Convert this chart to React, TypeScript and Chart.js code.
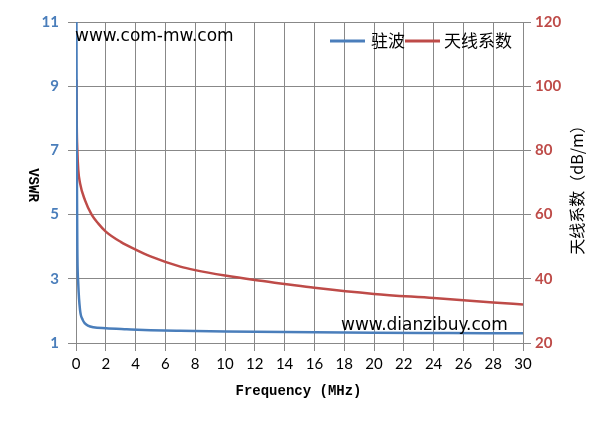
import React, { useEffect, useRef } from "react";
import { Chart, registerables } from "chart.js";

Chart.register(...registerables);

const vswrFreq = [0.03, 0.05, 0.09, 0.15, 0.27, 0.45, 0.6, 0.8, 1.16, 2, 3.4, 5, 7, 10, 14, 20, 25, 30];
const vswrValues = [11, 7, 3.9, 2.86, 2.03, 1.72, 1.61, 1.54, 1.49, 1.46, 1.43, 1.4, 1.38, 1.36, 1.34, 1.32, 1.31, 1.3];

const afFreq = [0.03, 0.05, 0.09, 0.15, 0.27, 0.6, 1.05, 1.5, 2, 3, 4, 5, 7, 8, 10, 12, 14, 16, 20, 24, 28, 30];
const afValues = [102, 88, 80, 74, 69.8, 64.5, 60, 57.2, 54.7, 51.5, 49.1, 47, 43.8, 42.7, 41, 39.6, 38.4, 37.2, 35.3, 34, 32.6, 32];

const xTicks = [0, 2, 4, 6, 8, 10, 12, 14, 16, 18, 20, 22, 24, 26, 28, 30];
const leftTicks = [1, 3, 5, 7, 9, 11];
const rightTicks = [20, 40, 60, 80, 100, 120];

const seriesNames = ["驻波", "天线系数"];
const xTitle = "Frequency (MHz)";
const leftTitle = "VSWR";
const rightTitle = "天线系数（dB/m）";
const watermarks = ["www.com-mw.com", "www.dianzibuy.com"];

const BLUE = "#4a7ebb";
const RED = "#be4b48";
const GRID = "#888888";

const overlay = {
  id: "overlay",
  afterDraw(chart: any) {
    const ctx = chart.ctx;
    const a = chart.chartArea;
    ctx.save();
    ctx.fillStyle = "#000";
    ctx.font = "17px 'DejaVu Sans'";
    ctx.textBaseline = "middle";
    ctx.textAlign = "left";
    ctx.fillText(watermarks[0], a.left - 1, 37);
    ctx.fillText(watermarks[1], 341, 326);
    ctx.lineWidth = 3;
    ctx.strokeStyle = BLUE;
    ctx.beginPath();
    ctx.moveTo(330, 41);
    ctx.lineTo(365, 41);
    ctx.stroke();
    ctx.strokeStyle = RED;
    ctx.beginPath();
    ctx.moveTo(405, 41);
    ctx.lineTo(440, 41);
    ctx.stroke();
    ctx.font = "17px 'Noto Sans CJK SC'";
    ctx.fillStyle = "#000";
    ctx.fillText(seriesNames[0], 371, 41);
    ctx.fillText(seriesNames[1], 444, 41);
    ctx.font = "bold 14px 'Liberation Mono'";
    ctx.textAlign = "center";
    ctx.fillText(xTitle, (a.left + a.right) / 2 - 1, 391);
    ctx.save();
    ctx.translate(33, 185);
    ctx.rotate(Math.PI / 2);
    ctx.fillText(leftTitle, 0, 0);
    ctx.restore();
    ctx.save();
    ctx.translate(577, 186);
    ctx.rotate(-Math.PI / 2);
    ctx.font = "16px 'Noto Sans CJK SC'";
    ctx.fillText(rightTitle, 0, 0);
    ctx.restore();
    ctx.restore();
  },
};

export default function App() {
  const ref = useRef<HTMLCanvasElement>(null);
  useEffect(() => {
    document.body.style.margin = "0";
    const chart = new Chart(ref.current!, {
      type: "line",
      data: {
        datasets: [
          {
            label: seriesNames[0],
            data: vswrFreq.map((x, i) => ({ x, y: vswrValues[i] })),
            borderColor: BLUE,
            borderWidth: 2.5,
            pointRadius: 0,
            cubicInterpolationMode: "monotone",
            yAxisID: "y",
          },
          {
            label: seriesNames[1],
            data: afFreq.map((x, i) => ({ x, y: afValues[i] })),
            borderColor: RED,
            borderWidth: 2.5,
            pointRadius: 0,
            cubicInterpolationMode: "monotone",
            yAxisID: "y1",
          },
        ],
      },
      options: {
        responsive: false,
        animation: false,
        layout: { padding: { top: 22, left: 0, right: 0, bottom: 0 } },
        plugins: { legend: { display: false }, tooltip: { enabled: false } },
        scales: {
          x: {
            type: "linear",
            min: 0,
            max: 30,
            afterBuildTicks: (s: any) => {
              s.ticks = xTicks.map((v) => ({ value: v }));
            },
            afterFit: (s: any) => {
              s.height = 87;
            },
            grid: { color: GRID, lineWidth: 1, tickLength: 8, drawTicks: true },
            border: { color: GRID },
            ticks: {
              color: "#000",
              font: { family: "Lato", size: 15 },
              padding: 4,
              maxRotation: 0,
            },
          },
          y: {
            type: "linear",
            position: "left",
            min: 1,
            max: 11,
            afterBuildTicks: (s: any) => {
              s.ticks = leftTicks.map((v) => ({ value: v }));
            },
            afterFit: (s: any) => {
              s.width = 76;
            },
            grid: { color: GRID, lineWidth: 1, tickLength: 8 },
            border: { color: GRID },
            ticks: {
              color: BLUE,
              font: { family: "Lato", size: 15, weight: "bold" },
              padding: 9,
            },
          },
          y1: {
            type: "linear",
            position: "right",
            min: 20,
            max: 120,
            afterBuildTicks: (s: any) => {
              s.ticks = rightTicks.map((v) => ({ value: v }));
            },
            afterFit: (s: any) => {
              s.width = 72;
            },
            grid: { drawOnChartArea: false, color: GRID, tickLength: 8 },
            border: { color: GRID },
            ticks: {
              color: RED,
              font: { family: "Lato", size: 15, weight: "bold" },
              padding: 4,
            },
          },
        },
      },
      plugins: [overlay],
    } as any);
    return () => chart.destroy();
  }, []);
  return (
    <div style={{ width: 595, height: 430, position: "relative" }}>
      <canvas ref={ref} width={595} height={430} style={{ display: "block" }} />
    </div>
  );
}
